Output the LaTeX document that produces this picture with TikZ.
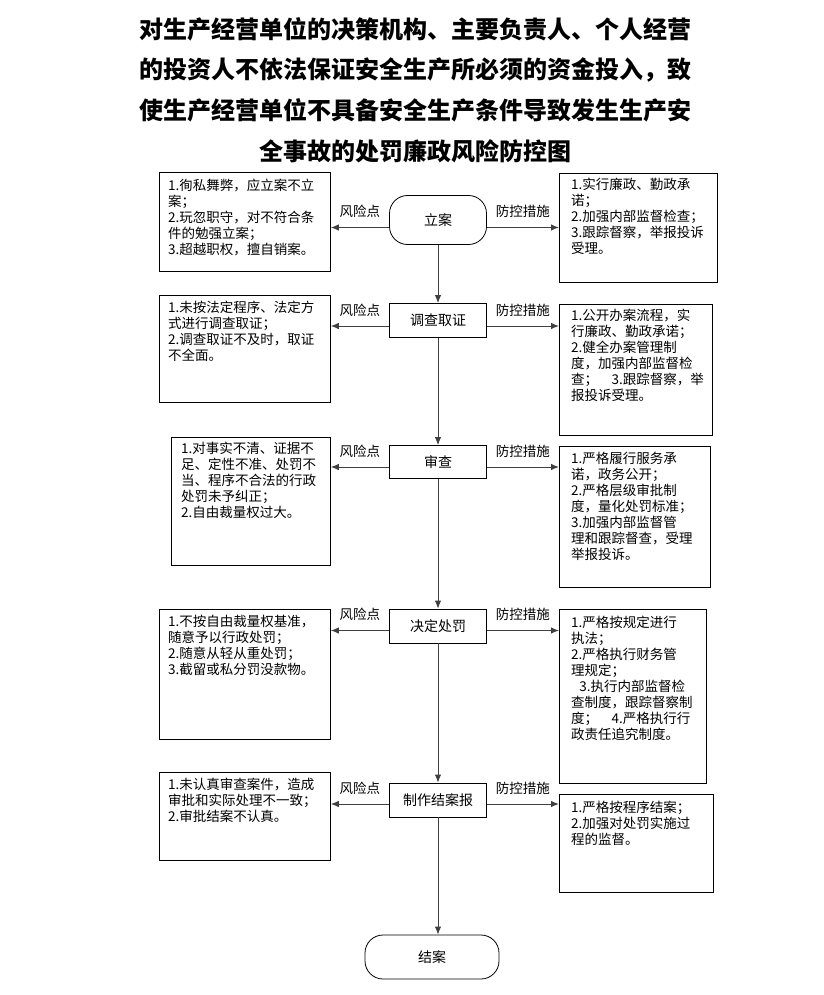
\documentclass[tikz,border=0pt]{standalone}
\usepackage{fontspec}
\setmainfont{Noto Sans CJK SC}
\usetikzlibrary{arrows.meta,calc}
\tikzset{
  flow/.style={draw=black, line width=0.8pt, minimum width=97pt, inner sep=0pt, font=\fontsize{14}{14}\selectfont},
  term/.style={flow, rounded corners=18pt},
  rbox/.style={draw=black, line width=0.8pt, anchor=north west, inner sep=0pt},
  btxt/.style={anchor=north west, inner sep=0pt, align=left, font=\fontsize{13.5}{16}\selectfont},
  conn/.style={draw=black!75, line width=1pt, -{Latex[length=8pt,width=6.5pt]}},
  lbl/.style={font=\fontsize{13.5}{13.5}\selectfont, inner sep=0pt},
  ttl/.style={font=\fontsize{24}{24}\selectfont\bfseries, inner sep=0pt}
}
\begin{document}
\begin{tikzpicture}[x=1pt,y=-1pt]
\useasboundingbox (0,0) rectangle (823,995);
% title
\node[ttl] (t1) at (415,29.5) {对生产经营单位的决策机构、主要负责人、个人经营};
\node[ttl] (t2) at (415,70) {的投资人不依法保证安全生产所必须的资金投入，致};
\node[ttl] (t3) at (415,110.5) {使生产经营单位不具备安全生产条件导致发生生产安};
\node[ttl] (t4) at (415,151) {全事故的处罚廉政风险防控图};
% flow nodes
\node[term, minimum height=49pt] (s1) at (438,220) {立案};
\node[flow, minimum height=34pt] (s2) at (438,320.5) {调查取证};
\node[flow, minimum height=33pt] (s3) at (438,462) {审查};
\node[flow, minimum height=34pt] (s4) at (438,626) {决定处罚};
\node[flow, minimum height=34pt] (s5) at (438,800) {制作结案报};
\node[term, minimum width=134pt, minimum height=44pt] (s6) at (432,957) {结案};
% left boxes
\node[rbox, minimum width=171pt, minimum height=99pt] (L1) at (159,172) {};
\node[rbox, minimum width=171pt, minimum height=107pt] (L2) at (159,295) {};
\node[rbox, minimum width=159pt, minimum height=128pt] (L3) at (171,437) {};
\node[rbox, minimum width=171pt, minimum height=130pt] (L4) at (159,609) {};
\node[rbox, minimum width=171pt, minimum height=88pt] (L5) at (159,772) {};
% right boxes
\node[rbox, minimum width=158pt, minimum height=109pt] (R1) at (559,173) {};
\node[rbox, minimum width=153pt, minimum height=131pt] (R2) at (559,304) {};
\node[rbox, minimum width=151pt, minimum height=141pt] (R3) at (559,446) {};
\node[rbox, minimum width=147pt, minimum height=174pt] (R4) at (559,609) {};
\node[rbox, minimum width=154pt, minimum height=98pt] (R5) at (559,794) {};
% texts
\node[btxt] (L1t) at ($(L1.north west)+(9,7)$) {1.徇私舞弊，应立案不立\\案；\\2.玩忽职守，对不符合条\\件的勉强立案；\\3.超越职权，擅自销案。};
\node[btxt] (L2t) at ($(L2.north west)+(9,6)$) {1.未按法定程序、法定方\\式进行调查取证；\\2.调查取证不及时，取证\\不全面。};
\node[btxt] (L3t) at ($(L3.north west)+(10,5)$) {1.对事实不清、证据不\\足、定性不准、处罚不\\当、程序不合法的行政\\处罚未予纠正；\\2.自由裁量权过大。};
\node[btxt] (L4t) at ($(L4.north west)+(9,6)$) {1.不按自由裁量权基准，\\随意予以行政处罚；\\2.随意从轻从重处罚；\\3.截留或私分罚没款物。};
\node[btxt] (L5t) at ($(L5.north west)+(9,6)$) {1.未认真审查案件，造成\\审批和实际处理不一致；\\2.审批结案不认真。};
\node[btxt] (R1t) at ($(R1.north west)+(12,5)$) {1.实行廉政、勤政承\\诺；\\2.加强内部监督检查；\\3.跟踪督察，举报投诉\\受理。};
\node[btxt] (R2t) at ($(R2.north west)+(12,5)$) {1.公开办案流程，实\\行廉政、勤政承诺；\\2.健全办案管理制\\度，加强内部监督检\\查；\hspace{1em}3.跟踪督察，举\\报投诉受理。};
\node[btxt] (R3t) at ($(R3.north west)+(12,6)$) {1.严格履行服务承\\诺，政务公开；\\2.严格层级审批制\\度，量化处罚标准；\\3.加强内部监督管\\理和跟踪督查，受理\\举报投诉。};
\node[btxt] (R4t) at ($(R4.north west)+(12,7)$) {1.严格按规定进行\\执法；\\2.严格执行财务管\\理规定；\\\hspace*{0.6em}3.执行内部监督检\\查制度，跟踪督察制\\度；\hspace{1em}4.严格执行行\\政责任追究制度。};
\node[btxt] (R5t) at ($(R5.north west)+(12,7)$) {1.严格按程序结案；\\2.加强对处罚实施过\\程的监督。};
% vertical flow
\draw[conn] (s1) -- (s2);
\draw[conn] (s2) -- (s3);
\draw[conn] (s3) -- (s4);
\draw[conn] (s4) -- (s5);
\draw[conn] (s5.south) -- (s5.south |- s6.north);
% side arrows
\foreach \s/\l/\r/\d in {s1/L1/R1/7.5, s2/L2/R2/5.5, s3/L3/R3/5, s4/L4/R4/4.5, s5/L5/R5/4}{
  \draw[conn] ($(\s.west)+(0,\d)$) coordinate (a\s) -- (a\s -| \l.east)
     node[lbl, midway, yshift=16pt] {风险点};
  \draw[conn] ($(\s.east)+(0,\d)$) coordinate (b\s) -- (b\s -| \r.west)
     node[lbl, midway, yshift=16pt] {防控措施};
}
\end{tikzpicture}
\end{document}
